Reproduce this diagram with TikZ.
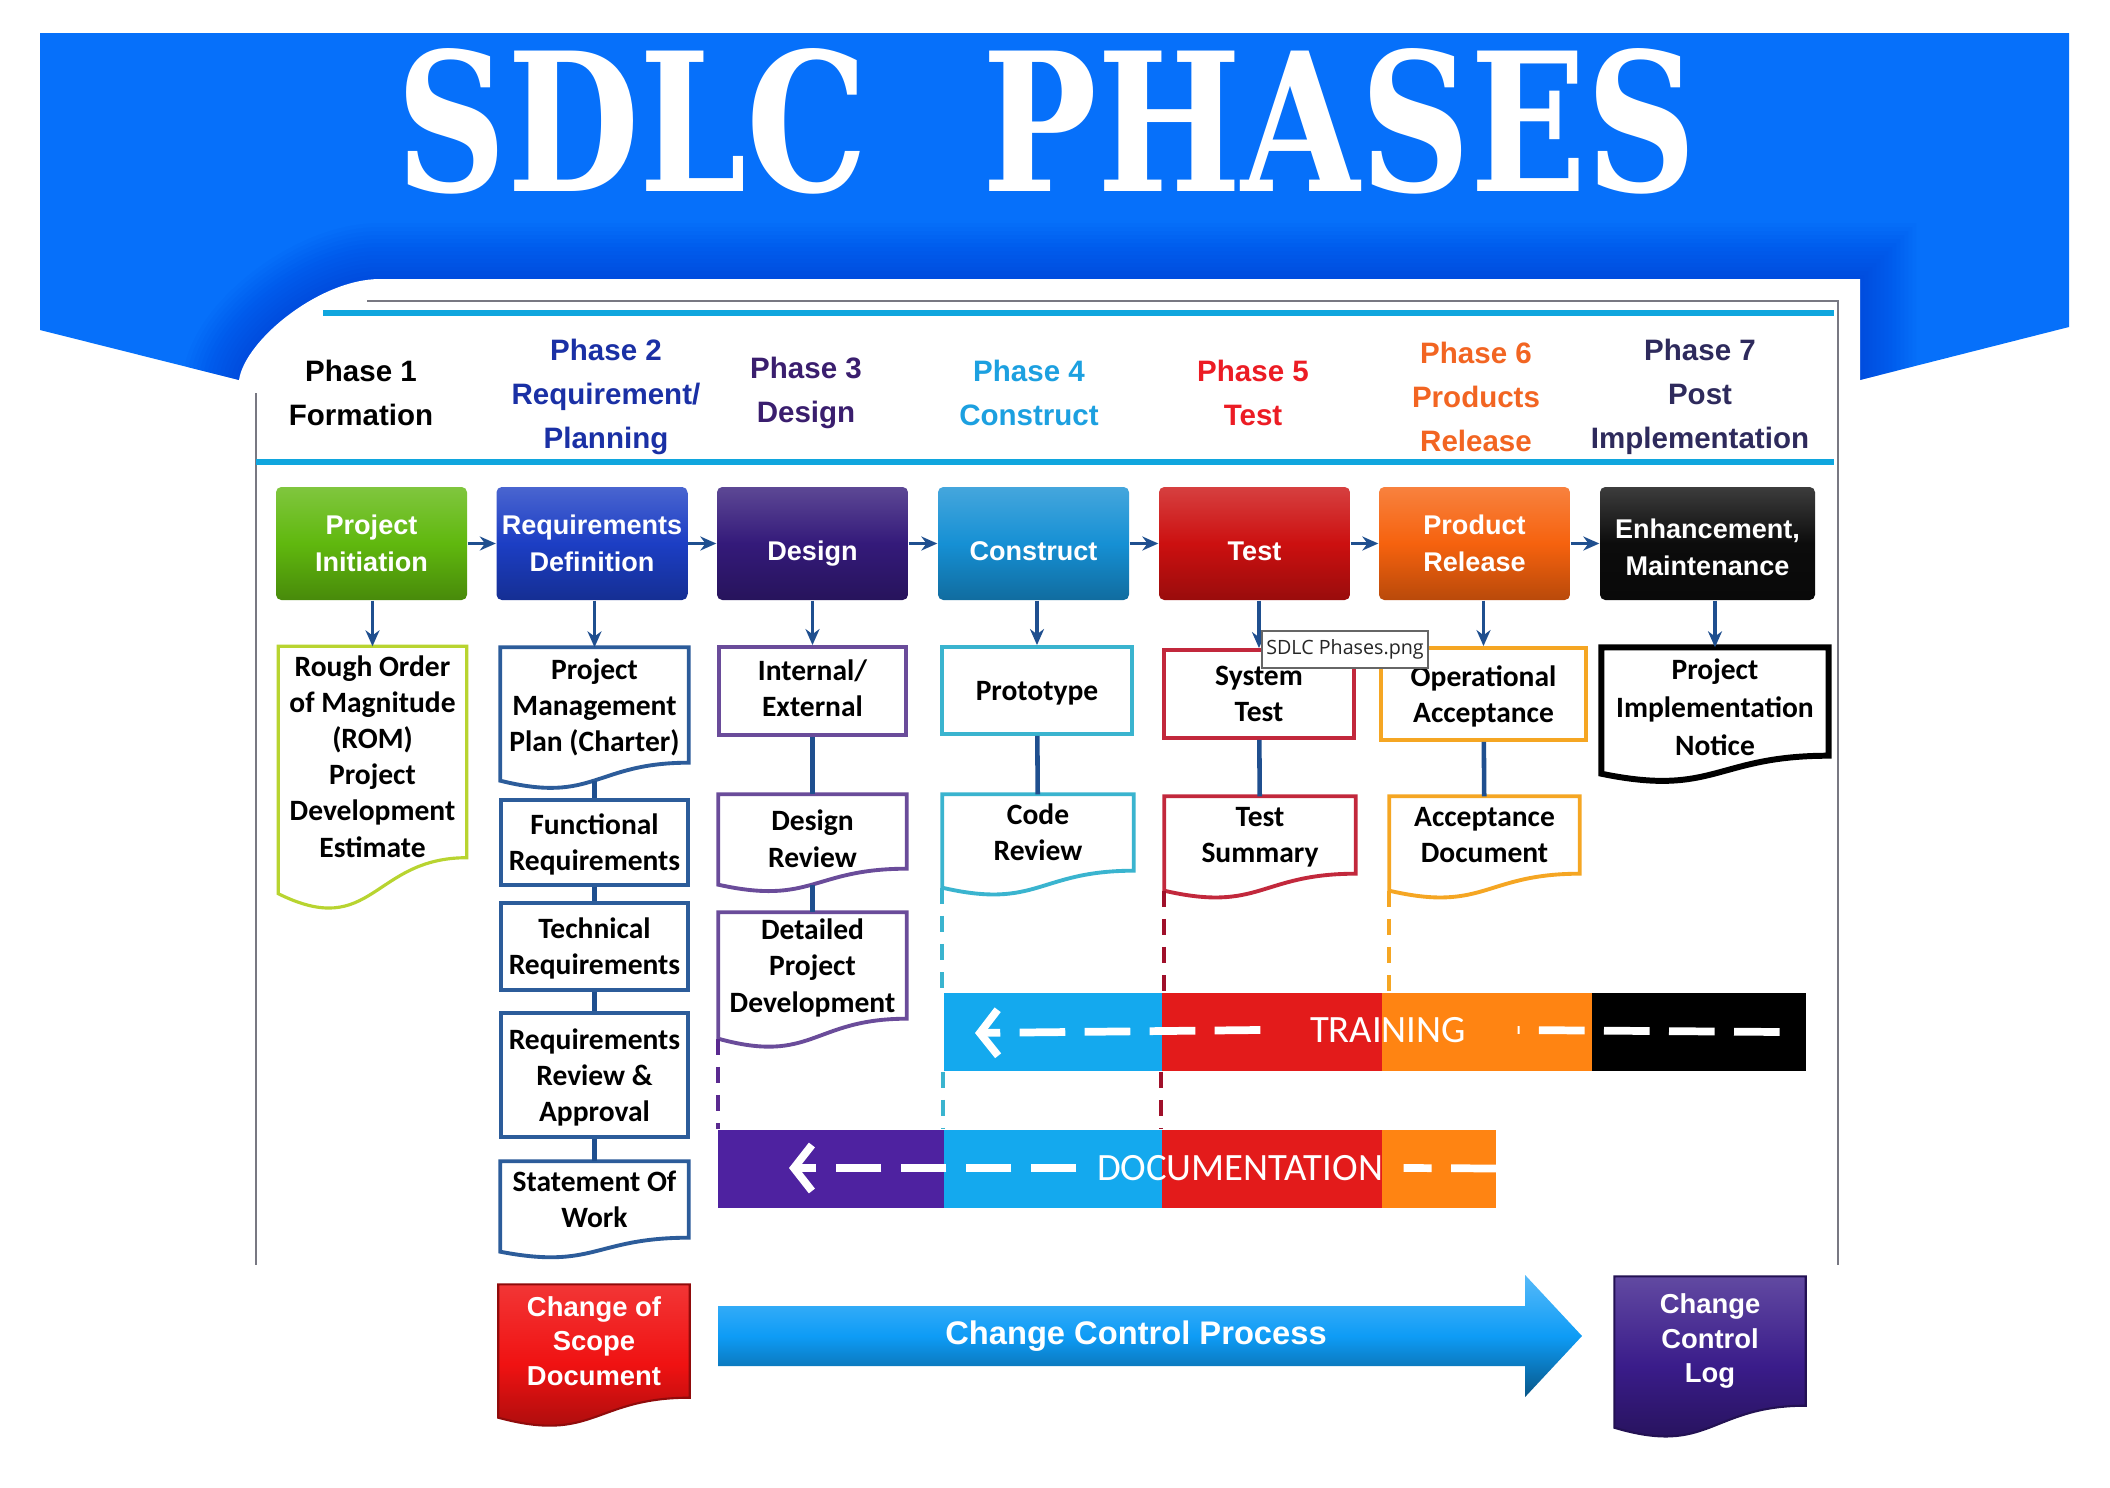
\documentclass[tikz,border=0pt]{standalone}
\usepackage{fontspec}
\setmainfont{Liberation Sans}
\newfontfamily\carlito{Carlito}
\newfontfamily\titleserif{DejaVu Serif}
\newfontfamily\tipfont{Open Sans}
\usepackage{graphicx}
\usetikzlibrary{positioning, shapes.arrows, arrows.meta, calc, backgrounds}

\definecolor{BannerBlue}{RGB}{6, 112, 250}
\definecolor{BannerShade}{RGB}{0, 40, 200}
\definecolor{PanelCyan}{RGB}{16, 166, 222}
\definecolor{PanelGray}{RGB}{120, 120, 130}
\definecolor{HeadBlue}{RGB}{26, 48, 165}
\definecolor{HeadPurple}{RGB}{58, 30, 110}
\definecolor{HeadCyan}{RGB}{28, 160, 224}
\definecolor{HeadRed}{RGB}{236, 28, 36}
\definecolor{HeadOrange}{RGB}{242, 101, 34}
\definecolor{HeadNavy}{RGB}{46, 42, 92}
\definecolor{BoxGreen}{RGB}{96, 184, 14}
\definecolor{BoxBlue}{RGB}{28, 62, 196}
\definecolor{BoxPurple}{RGB}{52, 26, 122}
\definecolor{BoxCyan}{RGB}{22, 144, 212}
\definecolor{BoxRed}{RGB}{204, 16, 16}
\definecolor{BoxOrange}{RGB}{246, 98, 14}
\definecolor{BoxBlack}{RGB}{12, 12, 12}
\definecolor{EdgeGreen}{RGB}{184, 212, 48}
\definecolor{EdgeBlue}{RGB}{44, 92, 154}
\definecolor{EdgePurple}{RGB}{106, 76, 154}
\definecolor{EdgeCyan}{RGB}{58, 180, 207}
\definecolor{EdgeRed}{RGB}{194, 40, 60}
\definecolor{EdgeOrange}{RGB}{245, 166, 35}
\definecolor{LinkBlue}{RGB}{31, 79, 143}
\definecolor{GuideRed}{RGB}{160, 16, 42}
\definecolor{GuidePurple}{RGB}{90, 42, 144}
\definecolor{BarCyan}{RGB}{20, 169, 238}
\definecolor{BarRed}{RGB}{227, 27, 27}
\definecolor{BarOrange}{RGB}{255, 132, 18}
\definecolor{BarPurple}{RGB}{78, 34, 160}
\definecolor{ScopeRed}{RGB}{240, 18, 18}
\definecolor{LogPurple}{RGB}{58, 28, 138}
\definecolor{ProcBlue}{RGB}{14, 156, 246}

\tikzset{
  phasehead/.style={text=#1, align=center, font=\bfseries\fontsize{8.4}{12.5}\selectfont},
  phasebox/.style={rounded corners=1.5pt, minimum width=19.1mm, minimum height=11.3mm,
    inner sep=0pt, align=center, text=white, font=\bfseries\fontsize{7.7}{10.5}\selectfont,
    text depth=0pt, top color=#1!80!white, bottom color=#1!75!black, middle color=#1},
  oneline/.style={text height=3.3mm},
  item/.style={inner sep=0pt, minimum width=18.7mm, align=center, text=black, text depth=0pt,
    font=\carlito\bfseries\fontsize{8.4}{10.3}\selectfont},
  itembox/.style={item, draw=#1, line width=1.1pt},
  docline/.style={draw=#1, line width=1.1pt},
  flow/.style={draw=LinkBlue, line width=0.9pt, -{Stealth[length=1.6mm, width=1.4mm]}},
  link/.style={draw=LinkBlue, line width=1.3pt},
  guide/.style={draw=#1, line width=1.2pt, dash pattern=on 4.5pt off 3.5pt},
  barseg/.style={fill=#1, minimum height=7.8mm, inner sep=0pt},
  bartext/.style={inner sep=0pt, text=white, font=\carlito\fontsize{11}{13}\selectfont},
  bardash/.style={white, line width=2.2pt, dash pattern=on 13pt off 5.5pt},
  flowdoc/.style={inner sep=0pt, align=center, text=white, font=\bfseries\fontsize{7.8}{9.9}\selectfont}
}

% document outline with a wavy bottom: node, options, wave depth
\newcommand{\docedge}[3]{%
  \path[#2] ($(#1.south west)+(0,#3)$) -- (#1.north west) -- (#1.north east) -- (#1.south east)
    .. controls (#1.south) and ($(#1.south)+(0,{2.3*#3})$) .. ($(#1.south west)+(0,#3)$) -- cycle;}

\begin{document}
\begin{tikzpicture}[x=0.1mm, y=-0.1mm]
  \useasboundingbox (0,0) rectangle (2110,1488);

  % Banner and panel
  \begin{pgfonlayer}{background}
    \fill[white] (0,0) rectangle (2110,1488);
    \fill[BannerBlue] (40,33) -- (2069,33) -- (2069,327) -- (1860,380) -- (239,380) -- (40,330) -- cycle;
    \begin{scope}
      \clip (40,33) -- (2069,33) -- (2069,327) -- (1860,380) -- (239,380) -- (40,330) -- cycle;
      \foreach \i in {1,...,14}
        \draw[BannerShade, line width={\i*0.8mm}, opacity=0.04] (239,1300) -- (239,380)
          .. controls (245,340) and (320,279) .. (380,279) -- (1860,279) -- (1860,1300);
    \end{scope}
    \fill[white] (239,1300) -- (239,380) .. controls (245,340) and (320,279) .. (380,279)
      -- (1860,279) -- (1860,1300) -- cycle;
    \draw[PanelGray, line width=0.6pt] (367,301) -- (1838,301) -- (1838,1265);
    \draw[PanelGray, line width=0.8pt] (256,393) -- (256,1265);
    \draw[PanelCyan, line width=1.5pt] (323,313) -- (1834,313);
    \draw[PanelCyan, line width=1.5pt] (256,462) -- (1834,462);
  \end{pgfonlayer}

  % Title
  \node[text=white] (title) at (1047,121) {\resizebox{130mm}{14.3mm}{\titleserif\bfseries SDLC\hspace{0.75em}PHASES}};

  % Phase headings
  \node[phasehead=black] (headone) at (361,393) {Phase 1\\Formation};
  \node[phasehead=HeadBlue] (headtwo) at (606,397) {Phase 2\\Requirement/\\Planning};
  \node[phasehead=HeadPurple] (headthree) at (806,393) {Phase 3\\Design};
  \node[phasehead=HeadCyan] (headfour) at (1029,393) {Phase 4\\Construct};
  \node[phasehead=HeadRed] (headfive) at (1253,393) {Phase 5\\Test};
  \node[phasehead=HeadOrange] (headsix) at (1476,397) {Phase 6\\Products\\Release};
  \node[phasehead=HeadNavy] (headseven) at (1700,397) {Phase 7\\Post\\Implementation};

  % Phase boxes
  \node[phasebox=BoxGreen] (init) at (371.5,543.5) {Project\\Initiation};
  \node[phasebox=BoxBlue] (reqdef) at (592,543.5) {Requirements\\Definition};
  \node[phasebox=BoxPurple, oneline] (design) at (812.5,543.5) {Design};
  \node[phasebox=BoxCyan, oneline] (construct) at (1033.5,543.5) {Construct};
  \node[phasebox=BoxRed, oneline] (test) at (1254.5,543.5) {Test};
  \node[phasebox=BoxOrange] (release) at (1474.5,543.5) {Product\\Release};
  \node[phasebox=BoxBlack, minimum width=21.5mm, text height=6.4mm] (enhance) at (1707.5,543.5) {Enhancement,\\Maintenance};

  \draw[flow] (init) -- (reqdef);
  \draw[flow] (reqdef) -- (design);
  \draw[flow] (design) -- (construct);
  \draw[flow] (construct) -- (test);
  \draw[flow] (test) -- (release);
  \draw[flow] (release) -- (enhance);

  % Phase 1
  \node[item, minimum height=21mm, text height=21mm] (rom) at (372.5,752) {Rough Order\\of Magnitude\\(ROM)\\Project\\Development\\Estimate};
  \docedge{rom}{docline=EdgeGreen, line width=0.9pt}{36}

  % Phase 2
  \node[item, minimum height=11.4mm] (pmp) at (594.5,705) {Project\\Management\\Plan (Charter)};
  \docedge{pmp}{docline=EdgeBlue}{18}
  \node[itembox=EdgeBlue, minimum height=8.5mm] (func) at (594.5,842.5) {Functional\\Requirements};
  \node[itembox=EdgeBlue, minimum height=8.7mm] (tech) at (594.5,946.5) {Technical\\Requirements};
  \node[itembox=EdgeBlue, minimum height=12.4mm] (review) at (594.5,1075) {Requirements\\Review \&\\Approval};
  \node[item, minimum height=7.5mm] (sow) at (594.5,1199.5) {Statement Of\\Work};
  \docedge{sow}{docline=EdgeBlue}{14}

  % Phase 3
  \node[itembox=EdgePurple, minimum height=8.8mm, text depth=0.6mm] (intext) at (812.5,691) {Internal/\\External};
  \node[item, minimum height=7.3mm, text height=7.1mm] (desrev) at (812.5,831.5) {Design\\Review};
  \docedge{desrev}{docline=EdgePurple}{16}
  \node[item, minimum height=10.5mm] (detail) at (812.5,965.5) {Detailed\\Project\\Development};
  \docedge{detail}{docline=EdgePurple}{20}

  % Phase 4
  \node[itembox=EdgeCyan, minimum width=19mm, minimum height=8.7mm] (proto) at (1037,690.5) {Prototype};
  \node[item, minimum width=19mm, minimum height=7.5mm] (coderev) at (1038,832.5) {Code\\Review};
  \docedge{coderev}{docline=EdgeCyan}{17}

  % Phase 5
  \node[itembox=EdgeRed, minimum width=19mm, minimum height=8.8mm] (systest) at (1259,694) {System\\Test};
  \node[item, minimum width=19mm, minimum height=7.6mm] (testsum) at (1260,835) {Test\\Summary};
  \docedge{testsum}{docline=EdgeRed}{17}

  % Phase 6
  \node[itembox=EdgeOrange, minimum width=20.5mm, minimum height=9.2mm] (opacc) at (1483.5,694) {Operational\\Acceptance};
  \node[item, minimum width=18.9mm, minimum height=7.6mm] (accdoc) at (1484.5,835) {Acceptance\\Document};
  \docedge{accdoc}{docline=EdgeOrange}{17}

  % Phase 7
  \node[item, minimum width=22.6mm, minimum height=10.7mm, text height=10.7mm,
    font=\carlito\bfseries\fontsize{8.4}{10.7}\selectfont] (pin) at (1715,701.5) {Project\\Implementation\\Notice};
  \docedge{pin}{docline=black, line width=1.7pt}{18}

  % Arrows down and links
  \draw[flow] (rom.north |- init.south) -- (rom.north);
  \draw[flow] (pmp.north |- reqdef.south) -- (pmp.north);
  \draw[flow] (intext.north |- design.south) -- (intext.north);
  \draw[flow] (proto.north |- construct.south) -- (proto.north);
  \draw[flow] (systest.north |- test.south) -- (systest.north);
  \draw[flow] (opacc.north |- release.south) -- (opacc.north);
  \draw[flow] (pin.north |- enhance.south) -- (pin.north);

  \draw[link] ($(pmp.south)+(0,18)$) -- (func);
  \draw[link] (func) -- (tech);
  \draw[link] (tech) -- (review);
  \draw[link] (review) -- (sow);
  \draw[link] (intext) -- (desrev);
  \draw[link] ($(desrev.south)+(0,16)$) -- (detail);
  \draw[link] (proto) -- (coderev);
  \draw[link] (systest) -- (testsum);
  \draw[link] (opacc) -- (accdoc);

  % Training bar
  \node[barseg=BarCyan, minimum width=21.8mm] (trone) at (1053,1032) {};
  \node[barseg=BarRed, minimum width=22mm] (trtwo) at (1272,1032) {};
  \node[barseg=BarOrange, minimum width=21mm] (trthree) at (1487,1032) {};
  \node[barseg=black, minimum width=21.4mm] (trfour) at (1699,1032) {};
  \node[bartext] (trtext) at (1388,1030) {TRAINING};
  \coordinate (trtip) at (975,1033);
  \draw[bardash, -{Straight Barb[length=1.8mm, width=4.6mm]}] ([xshift=-4.9mm]trtext.west) -- (trtip);
  \draw[bardash] ([xshift=-2.7mm]trfour.east) -- ([xshift=5.1mm]trtext.east);

  % Documentation bar
  \node[barseg=BarPurple, minimum width=22.6mm] (dcone) at (831,1168.5) {};
  \node[barseg=BarCyan, minimum width=21.8mm] (dctwo) at (1053,1168.5) {};
  \node[barseg=BarRed, minimum width=22mm] (dcthree) at (1272,1168.5) {};
  \node[barseg=BarOrange, minimum width=11.4mm] (dcfour) at (1439,1168.5) {};
  \node[bartext] (dctext) at (1240,1168) {DOCUMENTATION};
  \coordinate (dctip) at (789,1168);
  \draw[bardash, -{Straight Barb[length=1.8mm, width=4.6mm]}] ([xshift=-2mm]dctext.west) -- (dctip);
  \draw[bardash] (dcfour.east) -- ([xshift=2mm]dctext.east);

  % Dashed guides
  \draw[guide=GuidePurple] ($(detail.south west)+(0,20)$) -- (detail.south west |- dcone.north);
  \draw[guide=EdgeCyan] ($(coderev.south west)+(0,17)$) -- (coderev.south west |- trone.north);
  \draw[guide=EdgeCyan] (trone.south west) -- (trone.south west |- dctwo.north);
  \draw[guide=GuideRed] ($(testsum.south west)+(0,17)$) -- (testsum.south west |- trtwo.north);
  \draw[guide=GuideRed] (trtwo.south west) -- (trtwo.south west |- dcthree.north);
  \draw[guide=EdgeOrange] ($(accdoc.south west)+(0,17)$) -- (accdoc.south west |- trthree.north);

  % Change control
  \node[flowdoc, minimum width=19mm, minimum height=11.2mm] (scope) at (594,1341) {Change of\\Scope\\Document};
  \node[single arrow, single arrow head extend=3.1mm, single arrow tip angle=94,
    minimum width=12mm, minimum height=86.4mm, inner xsep=0pt, inner ysep=1.4mm,
    top color=ProcBlue!70!white, bottom color=ProcBlue!55!black, middle color=ProcBlue,
    text=white, font=\bfseries\fontsize{9.3}{11}\selectfont] (ccp) at (1136,1336) {Change Control Process};
  \node[flowdoc, minimum width=19mm, minimum height=12.8mm] (cclog) at (1710,1341) {Change\\Control\\Log};
  \begin{pgfonlayer}{background}
    \docedge{scope}{top color=ScopeRed!85!white, bottom color=ScopeRed!65!black, middle color=ScopeRed, draw=ScopeRed!60!black, line width=0.6pt}{20}
    \docedge{cclog}{top color=LogPurple!80!white, bottom color=LogPurple!60!black, middle color=LogPurple, draw=LogPurple!60!black, line width=0.6pt}{22}
  \end{pgfonlayer}

  % Tooltip
  \node[draw=black!60, fill=white, line width=0.5pt, minimum width=16.6mm, minimum height=3.7mm,
    inner sep=0pt, text=black!85, font=\tipfont\fontsize{5.6}{6}\selectfont] (tooltip) at (1345,649.5) {SDLC Phases.png};
\end{tikzpicture}
\end{document}
